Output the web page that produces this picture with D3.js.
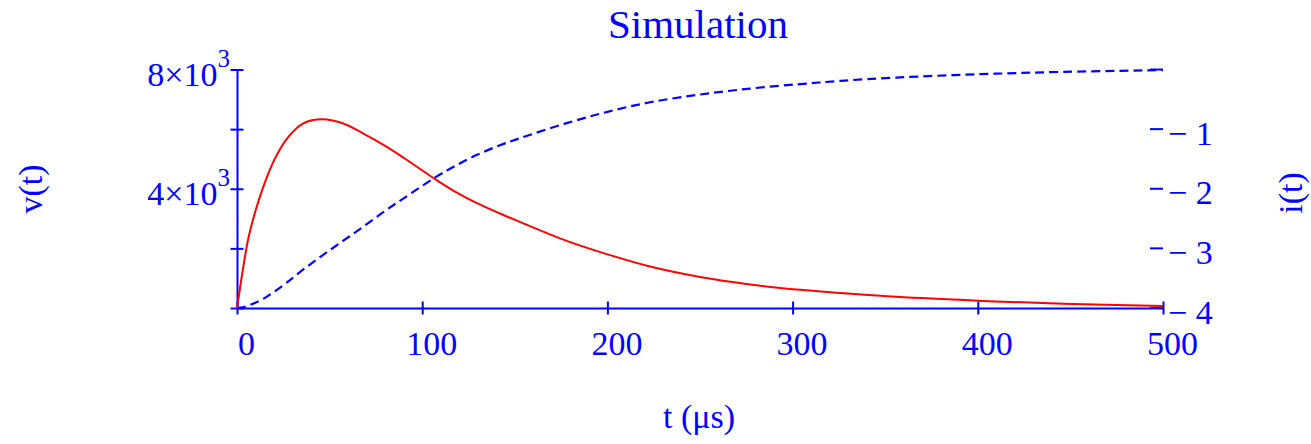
<!DOCTYPE html>
<html>
<head>
<meta charset="utf-8">
<script src="https://cdn.jsdelivr.net/npm/d3@7"></script>
<style>
  html, body { margin: 0; padding: 0; background: #fff; }
  svg text { font-family: "Liberation Serif", "Times New Roman", serif; fill: #0000ff; }
</style>
</head>
<body>
<div id="chart"></div>
<script>
// values
var tVals = [0, 3, 6, 10, 14, 20, 27, 36, 46, 57, 68, 80, 90, 107, 117, 129, 142, 153, 178, 200, 223, 250, 277, 304, 326, 356, 400, 446, 500];
var vVals = [0, 1220, 2300, 3260, 4030, 4950, 5680, 6200, 6330, 6195, 5860, 5440, 5040, 4320, 3930, 3535, 3170, 2880, 2250, 1800, 1390, 1040, 790, 610, 505, 375, 245, 145, 70];
var iVals = [-4.0, -3.99, -3.96, -3.91, -3.85, -3.73, -3.57, -3.35, -3.12, -2.88, -2.64, -2.37, -2.16, -1.81, -1.63, -1.44, -1.27, -1.15, -0.90, -0.71, -0.55, -0.42, -0.32, -0.245, -0.19, -0.135, -0.08, -0.04, -0.01];

var xTicks = [0, 100, 200, 300, 400, 500];
var vTicks = [0, 2000, 4000, 6000, 8000];
var vLabels = [4000, 8000];
var iTicks = [0, -1, -2, -3, -4];
var iLabels = [-1, -2, -3, -4];

var blue = "#0000ff", red = "#ff0000";
var width = 1311, height = 444;

var x = d3.scaleLinear().domain([0, 500]).range([237, 1163]);
var yv = d3.scaleLinear().domain([0, 8000]).range([308, 69.5]);
var yi = d3.scaleLinear().domain([-4, 0]).range([308, 69.5]);

var svg = d3.select("#chart").append("svg")
    .attr("width", width)
    .attr("height", height);

// x axis
var gx = svg.append("g")
    .attr("transform", "translate(0," + yv(0) + ")")
    .call(d3.axisBottom(x).tickValues(xTicks).tickSizeOuter(0).tickFormat(""));
gx.selectAll(".tick line").attr("y1", -6.5).attr("y2", 6.5);
gx.selectAll("path, line").attr("stroke", blue).attr("stroke-width", 2);
gx.selectAll(".tick").append("text")
    .attr("x", 9)
    .attr("y", 47)
    .attr("text-anchor", "middle")
    .style("font-size", "34px")
    .text(function (d) { return d; });

// left axis
var gy = svg.append("g")
    .attr("transform", "translate(" + x(0) + ",0)")
    .call(d3.axisLeft(yv).tickValues(vTicks).tickSizeOuter(0).tickFormat(""));
gy.selectAll(".tick line").attr("x1", -6.5).attr("x2", 6.5);
gy.selectAll("path, line").attr("stroke", blue).attr("stroke-width", 2);
var lab = gy.selectAll(".tick")
    .filter(function (d) { return vLabels.indexOf(d) >= 0; })
    .append("text")
    .attr("x", -7)
    .attr("y", 16)
    .attr("text-anchor", "end")
    .style("font-size", "34px");
lab.append("tspan").text(function (d) { return (d / 1000) + "\u00d710"; });
lab.append("tspan").attr("dy", -19).style("font-size", "25px").text("3");

// right axis (ticks only, no line)
var gr = svg.append("g")
    .attr("transform", "translate(" + x(500) + ",0)");
gr.selectAll("line").data(iTicks).enter().append("line")
    .attr("x1", -13).attr("x2", 0)
    .attr("y1", function (d) { return yi(d); })
    .attr("y2", function (d) { return yi(d); })
    .attr("stroke", blue).attr("stroke-width", 2);
gr.selectAll("text").data(iLabels).enter().append("text")
    .attr("x", 5)
    .attr("y", function (d) { return yi(d) + 15.5; })
    .style("font-size", "34px")
    .text(function (d) { return "\u2212 " + Math.abs(d); });

// curves
var lineV = d3.line()
    .x(function (d, k) { return x(tVals[k]); })
    .y(function (d) { return yv(d); })
    .curve(d3.curveCatmullRom.alpha(0.5));
var lineI = d3.line()
    .x(function (d, k) { return x(tVals[k]); })
    .y(function (d) { return yi(d); })
    .curve(d3.curveCatmullRom.alpha(0.5));

svg.append("path")
    .datum(iVals)
    .attr("d", lineI)
    .attr("fill", "none")
    .attr("stroke", blue)
    .attr("stroke-width", 2.2)
    .attr("stroke-dasharray", "9,5");

svg.append("path")
    .datum(vVals)
    .attr("d", lineV)
    .attr("fill", "none")
    .attr("stroke", red)
    .attr("stroke-width", 2);

// titles
svg.append("text")
    .attr("x", 698).attr("y", 38)
    .attr("text-anchor", "middle")
    .style("font-size", "41px")
    .text("Simulation");

svg.append("text")
    .attr("x", 699).attr("y", 428)
    .attr("text-anchor", "middle")
    .style("font-size", "34px")
    .text("t (\u03bcs)");

svg.append("text")
    .attr("transform", "translate(42,189) rotate(-90)")
    .attr("text-anchor", "middle")
    .style("font-size", "34px")
    .text("v(t)");

svg.append("text")
    .attr("transform", "translate(1302,193) rotate(-90)")
    .attr("text-anchor", "middle")
    .style("font-size", "34px")
    .text("i(t)");
</script>
</body>
</html>
